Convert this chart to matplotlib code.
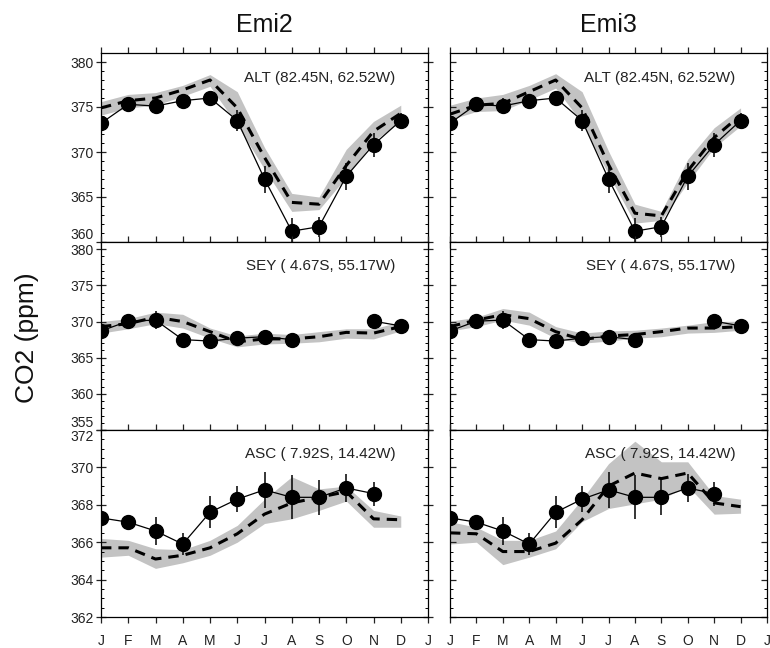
import numpy as np
import matplotlib
matplotlib.use('Agg')
import matplotlib.pyplot as plt
from matplotlib.ticker import MultipleLocator

plt.rcParams['font.family'] = ['Liberation Sans', 'DejaVu Sans']

months = np.arange(12)
month_labels = ['J', 'F', 'M', 'A', 'M', 'J', 'J', 'A', 'S', 'O', 'N', 'D', 'J']

# Observaciones (puntos con barras de error)
alt_obs = [373.2, 375.3, 375.1, 375.7, 376.0, 373.5, 367.0, 361.2, 361.7, 367.3, 370.8, 373.5]
alt_err = [0.6, 0.6, 0.9, 0.6, 0.6, 1.2, 1.5, 1.5, 1.1, 1.5, 1.35, 0.85]
sey_obs = [368.7, 370.05, 370.2, 367.5, 367.3, 367.7, 367.9, 367.5, np.nan, np.nan, 370.05, 369.4]
sey_err = [0.4, 1.0, 1.2, 0.4, 0.4, 0.4, 0.4, 0.4, np.nan, np.nan, 0.4, 0.4]
asc_obs = [367.3, 367.07, 366.6, 365.9, 367.6, 368.3, 368.8, 368.4, 368.4, 368.9, 368.6, np.nan]
asc_err = [0.3, 0.4, 0.75, 0.57, 0.86, 0.7, 0.98, 1.18, 0.93, 0.73, 0.64, np.nan]

# Modelo Emi2 (linea discontinua) y banda gris
emi2_alt = [374.9, 375.7, 376.0, 376.9, 378.0, 374.9, 369.4, 364.4, 364.2, 368.5, 372.3, 374.3]
emi2_alt_hi = [375.6, 376.4, 376.6, 377.4, 378.6, 376.7, 370.5, 365.4, 365.0, 370.3, 373.4, 375.2]
emi2_alt_lo = [374.1, 374.9, 375.2, 376.2, 377.3, 373.0, 368.1, 363.4, 363.6, 367.2, 371.2, 373.4]
emi2_sey = [369.3, 369.7, 370.6, 370.0, 368.6, 367.2, 367.6, 367.6, 367.9, 368.5, 368.4, 369.3]
emi2_sey_hi = [370.0, 370.4, 371.3, 371.0, 369.1, 368.0, 368.4, 368.2, 368.6, 369.0, 369.0, 370.0]
emi2_sey_lo = [368.4, 369.0, 369.7, 369.1, 367.7, 366.5, 366.9, 367.0, 367.2, 367.7, 367.6, 368.7]
emi2_asc = [365.7, 365.7, 365.1, 365.3, 365.7, 366.45, 367.5, 368.1, 368.4, 368.7, 367.25, 367.2]
emi2_asc_hi = [366.2, 366.1, 365.65, 365.6, 366.1, 366.9, 368.3, 369.5, 368.85, 369.0, 367.7, 367.4]
emi2_asc_lo = [365.2, 365.3, 364.6, 364.9, 365.3, 366.0, 367.0, 367.25, 367.7, 368.2, 366.8, 366.8]

# Modelo Emi3
emi3_alt = [374.2, 375.2, 375.4, 376.7, 378.0, 374.9, 368.6, 363.2, 362.9, 367.9, 371.6, 374.1]
emi3_alt_hi = [375.2, 376.0, 376.4, 377.4, 378.7, 376.7, 370.1, 364.2, 363.4, 369.2, 372.7, 374.9]
emi3_alt_lo = [373.6, 374.5, 374.6, 375.8, 377.1, 373.2, 367.5, 362.1, 362.4, 366.6, 370.5, 372.9]
emi3_sey = [369.3, 370.2, 370.95, 370.4, 368.6, 367.5, 368.0, 368.2, 368.6, 369.1, 369.1, 369.3]
emi3_sey_hi = [370.05, 370.6, 371.8, 371.3, 369.3, 368.4, 368.7, 368.8, 369.1, 369.5, 370.0, 370.05]
emi3_sey_lo = [368.7, 369.3, 370.2, 369.5, 367.7, 367.0, 367.3, 367.7, 367.9, 368.4, 368.5, 368.8]
emi3_asc = [366.5, 366.45, 365.5, 365.5, 365.95, 367.2, 369.0, 369.7, 369.4, 369.7, 368.1, 367.9]
emi3_asc_hi = [367.1, 366.8, 366.1, 366.1, 366.6, 368.3, 370.2, 371.4, 370.3, 370.3, 368.5, 368.3]
emi3_asc_lo = [365.9, 366.0, 364.8, 365.2, 365.65, 367.1, 367.8, 368.05, 368.3, 369.0, 367.5, 367.55]

stations = ['ALT (82.45N, 62.52W)', 'SEY ( 4.67S, 55.17W)', 'ASC ( 7.92S, 14.42W)']
ylims = [(360, 381), (355, 381), (362, 372)]
yticks = [[360, 365, 370, 375, 380], [355, 360, 365, 370, 375, 380], [362, 364, 366, 368, 370, 372]]
yminor = [1, 1, 0.5]

obs = [(alt_obs, alt_err), (sey_obs, sey_err), (asc_obs, asc_err)]
modelos = [
    [(emi2_alt, emi2_alt_lo, emi2_alt_hi), (emi2_sey, emi2_sey_lo, emi2_sey_hi), (emi2_asc, emi2_asc_lo, emi2_asc_hi)],
    [(emi3_alt, emi3_alt_lo, emi3_alt_hi), (emi3_sey, emi3_sey_lo, emi3_sey_hi), (emi3_asc, emi3_asc_lo, emi3_asc_hi)],
]

fig = plt.figure(figsize=(7.7, 6.48), dpi=100)
W, H = 770., 648.
cols = [(101, 327), (450, 317)]
rows = [(53, 242), (242, 430), (430, 617)]

for c, (x0, w) in enumerate(cols):
    for r, (ytop, ybot) in enumerate(rows):
        ax = fig.add_axes([x0 / W, 1 - ybot / H, w / W, (ybot - ytop) / H])
        m, lo, hi = modelos[c][r]
        ax.fill_between(months, lo, hi, color='#c3c3c3', lw=0, zorder=1)
        ax.plot(months, m, color='black', lw=2.2, dashes=(3.4, 2.3), zorder=2)
        o, e = obs[r]
        ax.errorbar(months, o, yerr=e, fmt='o-', color='black', ms=10, lw=0.9,
                    elinewidth=1.1, capsize=0, zorder=3)
        ax.set_xlim(0, 12)
        ax.set_ylim(*ylims[r])
        ax.set_xticks(np.arange(13))
        ax.set_yticks(yticks[r])
        ax.yaxis.set_minor_locator(MultipleLocator(yminor[r]))
        ax.tick_params(axis='x', which='major', direction='out', length=4, width=0.9,
                       top=True, bottom=True, labelsize=10, pad=8, colors='#222222')
        ax.tick_params(axis='y', which='major', direction='inout', length=7, width=0.9,
                       left=True, right=True, labelsize=10, pad=2, colors='#222222')
        ax.tick_params(axis='y', which='minor', direction='in', length=2.5, width=0.7,
                       left=True, right=True)
        if r == 2:
            ax.set_xticklabels(month_labels)
        else:
            ax.set_xticklabels([])
        if c == 1:
            ax.set_yticklabels([])
            ax.tick_params(axis='y', which='major', direction='in', length=4)
        else:
            # etiquetas que se tocan entre paneles: una arriba, otra abajo
            ticks = ax.yaxis.get_major_ticks()
            if r < 2:
                ticks[0].label1.set_verticalalignment('bottom')
            else:
                ticks[-1].label1.set_verticalalignment('top')
        for s in ax.spines.values():
            s.set_linewidth(0.9)
        ax.text(0.9, 0.87, stations[r], transform=ax.transAxes, ha='right', va='center',
                fontsize=11, color='#222222', zorder=4)

fig.text(264 / W, 1 - 25 / H, 'Emi2', ha='center', va='center', fontsize=18, color='#111111')
fig.text(608 / W, 1 - 25 / H, 'Emi3', ha='center', va='center', fontsize=18, color='#111111')
fig.text(27 / W, 1 - 338 / H, 'CO2 (ppm)', ha='center', va='center', rotation=90,
         fontsize=19, color='#111111')

fig.savefig('out.png', dpi=100)
